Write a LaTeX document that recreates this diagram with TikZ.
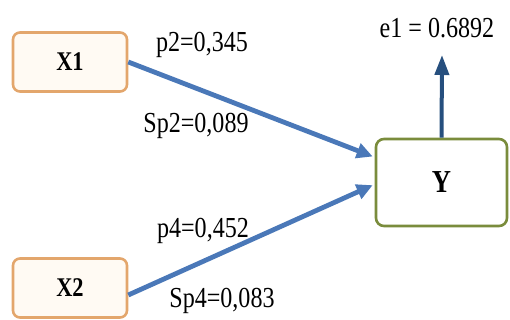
\documentclass[tikz,border=0pt]{standalone}
\usepackage{fontspec}
\setmainfont[FakeStretch=0.83]{Liberation Serif}
\usetikzlibrary{arrows.meta,calc}

\definecolor{boxorange}{HTML}{E3A66C}
\definecolor{boxfill}{HTML}{FFFAF3}
\definecolor{boxolive}{HTML}{7A8C3C}
\definecolor{pathblue}{HTML}{4A78B8}
\definecolor{errblue}{HTML}{264F7E}

\tikzset{
  varbox/.style={draw=boxorange, fill=boxfill, line width=2.6pt, rounded corners=7pt,
    minimum width=114pt, minimum height=59pt, inner sep=0pt, font=\bfseries\fontsize{27}{30}\selectfont},
  outbox/.style={draw=boxolive, fill=white, line width=2.6pt, rounded corners=8pt,
    minimum width=131pt, minimum height=87pt, inner sep=0pt, font=\bfseries\fontsize{32}{34}\selectfont},
  patharrow/.style={draw=pathblue, line width=4.8pt, -{Triangle[length=16pt,width=15pt]}},
  errarrow/.style={draw=errblue, line width=4pt, -{Triangle[length=20pt,width=14pt]}},
  coef/.style={font=\fontsize{29}{32}\selectfont, inner sep=0pt}
}

\begin{document}
\begin{tikzpicture}[x=1pt,y=-1pt]
  \useasboundingbox (0,0) rectangle (510,320);

  % variable boxes
  \node[varbox] (X1) at (70,62) {X1};
  \node[varbox] (X2) at (70,288) {X2};
  \node[outbox] (Y) at (441.5,182.5) {Y};

  % path arrows into Y
  \coordinate (y1) at ($(Y.north west)!0.21!(Y.south west)$);
  \coordinate (y2) at ($(Y.north west)!0.53!(Y.south west)$);
  \draw[patharrow] (X1.east) -- ([xshift=-2pt]y1);
  \draw[patharrow] ([yshift=-7pt]X2.east) -- ([xshift=-2pt]y2);

  % residual arrow
  \coordinate (e) at (442,55);
  \draw[errarrow] (Y.north) -- (e);

  % coefficient labels
  \node[coef] (p2) at (202,45) {p2=0,345};
  \node[coef] (sp2) at (196,126) {Sp2=0,089};
  \node[coef] (p4) at (203,231) {p4=0,452};
  \node[coef] (sp4) at (222,301) {Sp4=0,083};
  \node[coef] (e1) at (437,28) {e1 = 0.6892};
\end{tikzpicture}
\end{document}
